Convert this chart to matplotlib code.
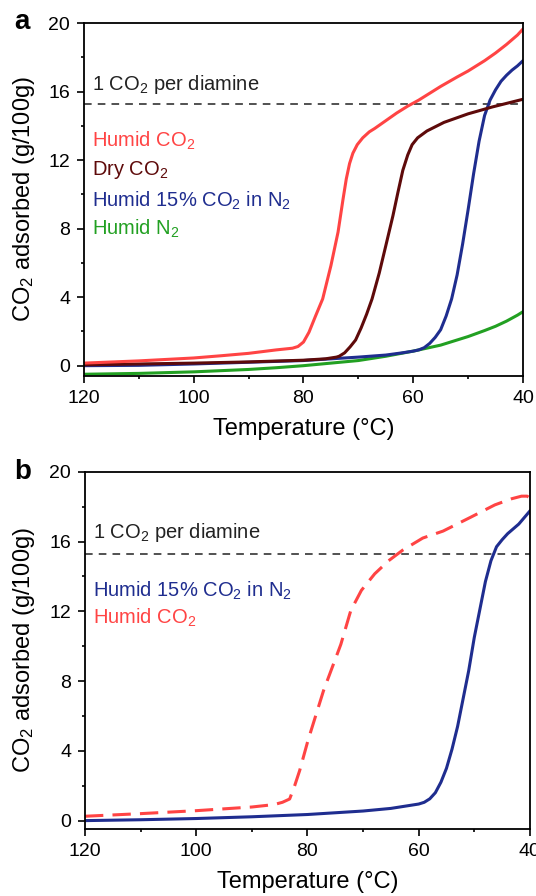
import matplotlib
matplotlib.use('Agg')
import matplotlib.pyplot as plt
from matplotlib.ticker import MultipleLocator

plt.rcParams['font.family'] = ['Liberation Sans', 'DejaVu Sans']
plt.rcParams['mathtext.default'] = 'regular'

# ---- panel a data (temperature in degC, uptake in g/100g) ----
a_humid_co2_t = [120, 110, 100, 95, 90, 85, 82, 81, 80, 79, 77.8, 76.5, 75, 73.7, 72.8, 72.2, 71.6,
                 71.0, 70.2, 69.2, 68, 67, 65, 63, 61, 59, 57, 55, 52, 50, 47, 45, 43, 41, 40]
a_humid_co2_y = [0.15, 0.28, 0.45, 0.58, 0.72, 0.92, 1.02, 1.12, 1.38, 1.95, 2.9, 3.9, 5.84, 7.8, 9.7, 10.9, 11.8,
                 12.4, 12.9, 13.3, 13.65, 13.85, 14.3, 14.75, 15.15, 15.5, 15.9, 16.3, 16.85, 17.2, 17.8, 18.25,
                 18.75, 19.3, 19.65]

a_dry_co2_t = [120, 110, 100, 90, 80, 76, 74, 73.5, 72.5, 71.5, 70.5, 69.5, 68.5, 67.5, 66.2, 65.0, 63.7,
               62.8, 61.9, 61.0, 60.2, 59.2, 57.5, 54.4, 50, 45.6, 40]
a_dry_co2_y = [0.05, 0.1, 0.15, 0.22, 0.32, 0.4, 0.5, 0.55, 0.75, 1.1, 1.5, 2.2, 3.0, 3.9, 5.4, 7.0, 8.75,
               10.1, 11.4, 12.3, 12.9, 13.3, 13.7, 14.2, 14.7, 15.1, 15.55]

a_humid_15_t = [120, 110, 100, 90, 80, 75, 70, 65, 62, 60, 59, 58, 57, 56, 55, 54, 53, 52, 51, 50,
                49, 48, 47, 46, 45, 44, 43, 42, 41, 40]
a_humid_15_y = [0.0, 0.02, 0.1, 0.2, 0.3, 0.4, 0.5, 0.62, 0.75, 0.85, 0.92, 1.05, 1.3, 1.65, 2.1, 2.9, 3.9,
                5.3, 7.1, 9.1, 11.2, 13.1, 14.6, 15.5, 16.1, 16.6, 16.95, 17.25, 17.5, 17.8]

a_humid_n2_t = [120, 110, 100, 90, 85, 80, 75, 70, 65, 60, 55, 50, 47, 45, 43, 41, 40]
a_humid_n2_y = [-0.5, -0.45, -0.36, -0.22, -0.12, 0.0, 0.15, 0.3, 0.55, 0.85, 1.2, 1.7, 2.05, 2.3, 2.6, 2.95, 3.15]

# ---- panel b data ----
b_humid_co2_t = [120, 110, 100, 90, 86, 84.5, 83.2, 82.3, 81.4, 79.9, 77.1, 74.0, 72.2, 70.3, 67.9,
                 65.4, 62.9, 59.25, 55.6, 50.6, 46.3, 43.3, 41.5, 40.5, 40]
b_humid_co2_y = [0.25, 0.4, 0.57, 0.78, 0.92, 1.05, 1.24, 2.0, 2.87, 4.6, 7.46, 10.1, 12.05, 13.2, 14.15,
                 14.9, 15.5, 16.2, 16.6, 17.4, 18.1, 18.45, 18.6, 18.6, 18.5]

b_humid_15_t = [120, 110, 100, 90, 80, 70, 65, 60, 59, 58, 57, 56, 55, 54, 53, 52, 51, 50,
                49, 48, 47, 46, 45, 44, 42, 40]
b_humid_15_y = [0.0, 0.05, 0.12, 0.22, 0.35, 0.55, 0.7, 0.95, 1.05, 1.25, 1.6, 2.2, 3.0, 4.1, 5.4, 7.0, 8.6, 10.5,
                12.1, 13.7, 14.9, 15.7, 16.1, 16.45, 17.0, 17.75]

one_per_diamine = 15.3

RED = '#ff4444'
DARK = '#5e0a0a'
NAVY = '#1f2d8f'
GREEN = '#22a022'

fig = plt.figure(figsize=(5.36, 8.96), dpi=100)
ax_a = fig.add_axes([0.1567, 0.5804, 0.819, 0.3939])
ax_b = fig.add_axes([0.1586, 0.0744, 0.830, 0.3991])


def style_axes(ax, ymin):
    ax.set_xlim(120, 40)
    ax.set_ylim(ymin, 20)
    ax.xaxis.set_major_locator(MultipleLocator(20))
    ax.xaxis.set_minor_locator(MultipleLocator(10))
    ax.yaxis.set_major_locator(MultipleLocator(4))
    ax.yaxis.set_minor_locator(MultipleLocator(2))
    ax.tick_params(which='major', direction='out', length=5, width=1.2, labelsize=14, pad=5)
    ax.tick_params(which='minor', direction='out', length=2.5, width=1.2)
    for s in ax.spines.values():
        s.set_linewidth(1.3)
    ax.set_xlabel('Temperature (°C)', fontsize=17, labelpad=8)
    ax.set_ylabel('CO$_2$ adsorbed (g/100g)', fontsize=17)
    ax.yaxis.set_label_coords(-0.108, 0.5)
    ax.axhline(one_per_diamine, color='#222222', lw=1.1, ls=(0, (5, 4)))


# panel a
style_axes(ax_a, -0.6)
ax_a.plot(a_humid_n2_t, a_humid_n2_y, color=GREEN, lw=2.2)
ax_a.plot(a_humid_15_t, a_humid_15_y, color=NAVY, lw=2.2)
ax_a.plot(a_dry_co2_t, a_dry_co2_y, color=DARK, lw=2.2)
ax_a.plot(a_humid_co2_t, a_humid_co2_y, color=RED, lw=2.2)
ax_a.text(118.6, 16.4, '1 CO$_2$ per diamine', fontsize=14.5, color='#222222', va='center')
ax_a.text(118.6, 13.1, 'Humid CO$_2$', fontsize=14.5, color=RED, va='center')
ax_a.text(118.6, 11.4, 'Dry CO$_2$', fontsize=14.5, color=DARK, va='center')
ax_a.text(118.6, 9.6, 'Humid 15% CO$_2$ in N$_2$', fontsize=14.5, color=NAVY, va='center')
ax_a.text(118.6, 8.0, 'Humid N$_2$', fontsize=14.5, color=GREEN, va='center')

# panel b
style_axes(ax_b, -0.5)
ax_b.plot(b_humid_15_t, b_humid_15_y, color=NAVY, lw=2.2)
ax_b.plot(b_humid_co2_t, b_humid_co2_y, color=RED, lw=2.2, ls=(0, (6, 3)))
ax_b.text(118.6, 16.5, '1 CO$_2$ per diamine', fontsize=14.5, color='#222222', va='center')
ax_b.text(118.6, 13.2, 'Humid 15% CO$_2$ in N$_2$', fontsize=14.5, color=NAVY, va='center')
ax_b.text(118.6, 11.6, 'Humid CO$_2$', fontsize=14.5, color=RED, va='center')

fig.text(0.026, 0.975, 'a', fontsize=20, fontweight='bold', va='center', ha='left')
fig.text(0.026, 0.473, 'b', fontsize=20, fontweight='bold', va='center', ha='left')

fig.savefig('out.png', dpi=100)
plt.close(fig)
